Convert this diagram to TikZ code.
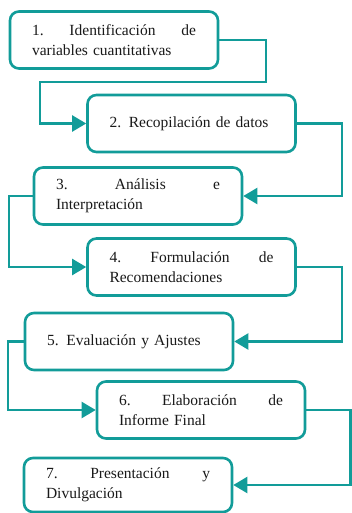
\documentclass[tikz,border=0pt]{standalone}
\usepackage{fontspec}
\setmainfont{Liberation Serif}
\usetikzlibrary{arrows.meta}
\definecolor{tealc}{HTML}{129C99}
\begin{document}
\begin{tikzpicture}[x=1pt,y=-1pt,
  stepbox/.style={draw=tealc, line width=2.6pt, rounded corners=9pt, fill=white,
    minimum width=208pt, minimum height=57pt, text width=164pt, inner xsep=22pt,
    inner ysep=0pt, align=left, font=\fontsize{15.5}{19.5}\selectfont, text=black!90},
  conn/.style={draw=tealc, line width=2.2pt, -{Triangle[length=14pt,width=16pt]}}]
\useasboundingbox (0,0) rectangle (352,513);
\node[stepbox] (n1) at (114,40) {1.\hfill Identificación\hfill de\\variables cuantitativas};
\node[stepbox] (n2) at (191.5,123.5) {2. Recopilación de datos};
\node[stepbox] (n3) at (138,196) {3.\hfill Análisis\hfill e\\Interpretación};
\node[stepbox] (n4) at (191.5,267) {4.\hfill Formulación\hfill de\\Recomendaciones};
\node[stepbox] (n5) at (129,341.5) {5. Evaluación y Ajustes};
\node[stepbox] (n6) at (201,410) {6.\hfill Elaboración\hfill de\\Informe Final};
\node[stepbox, minimum height=54pt] (n7) at (128,485) {7.\hfill Presentación\hfill y\\Divulgación};
\coordinate (k1) at (266,82);
\coordinate (k2) at (40,82);
\coordinate (k3) at (342,160);
\coordinate (k4) at (9,230);
\coordinate (k5) at (342,300);
\coordinate (k6) at (8,380);
\coordinate (k7) at (350.5,450);
\draw[conn] (n1.east) -| (k1) -- (k2) |- (n2.west);
\draw[conn] (n2.east) -| (k3) |- (n3.east);
\draw[conn] (n3.west) -| (k4) |- (n4.west);
\draw[conn] (n4.east) -| (k5) |- (n5.east);
\draw[conn] (n5.west) -| (k6) |- (n6.west);
\draw[conn] (n6.east) -| (k7) |- (n7.east);
\end{tikzpicture}
\end{document}
